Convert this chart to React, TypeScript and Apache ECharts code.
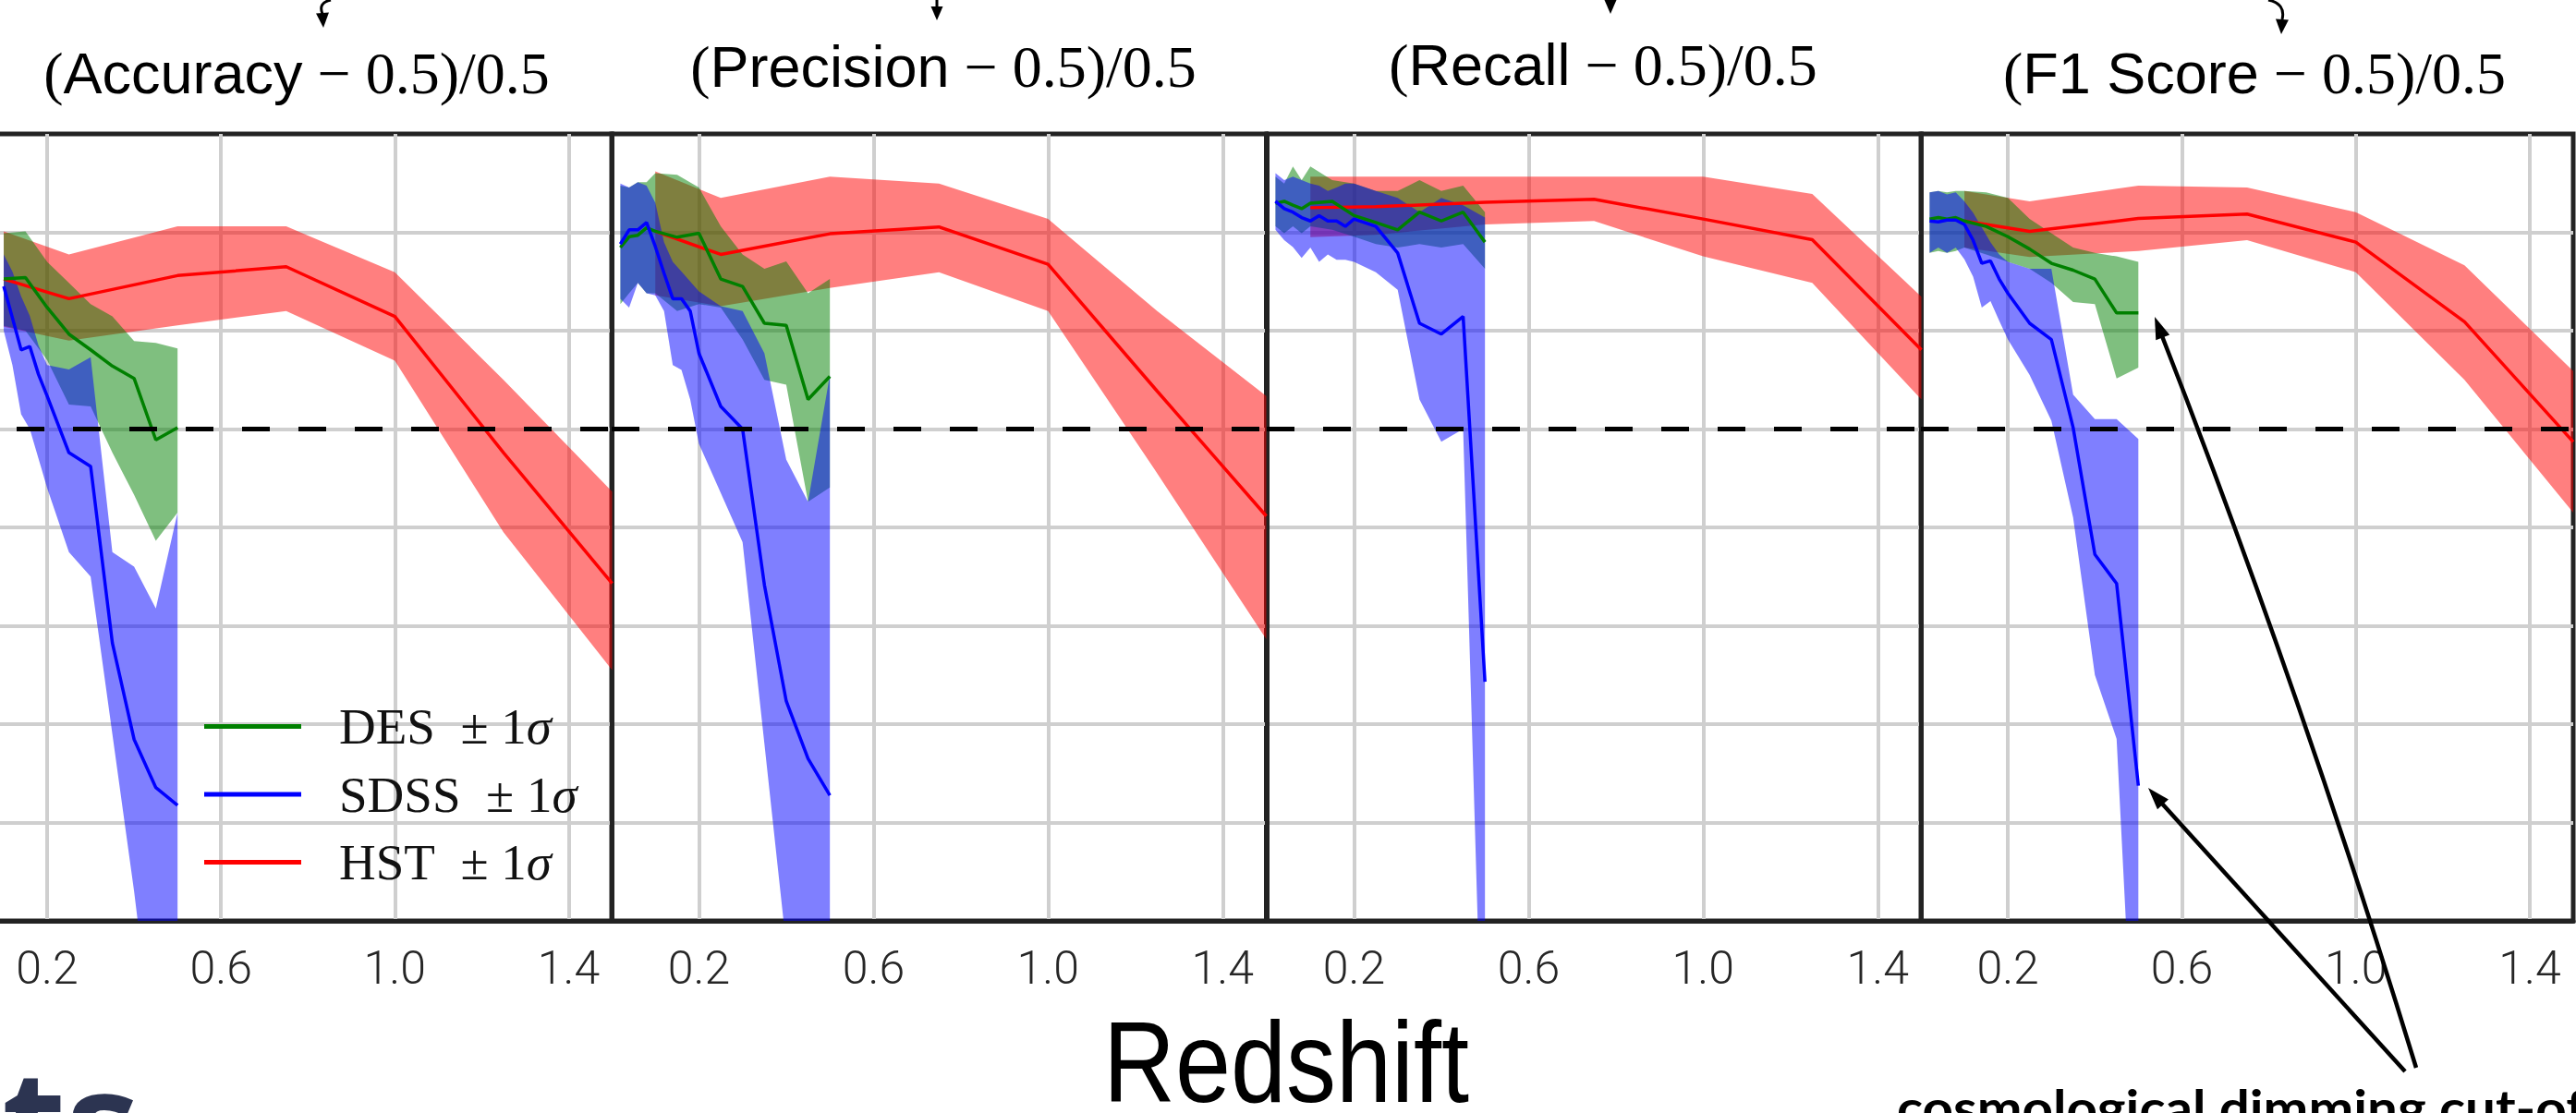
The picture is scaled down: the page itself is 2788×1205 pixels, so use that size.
import React, { useEffect, useRef } from 'react';
import * as echarts from 'echarts';

const N = null;

// ---------- axes / labels ----------
const panelTitles = ['Accuracy', 'Precision', 'Recall', 'F1 Score'];
const xTickLabels = [0.2, 0.6, 1.0, 1.4];
const legendNames = ['DES', 'SDSS', 'HST'];

// ---------- x grids (redshift) ----------
const hstX = [0.1, 0.25, 0.5, 0.75, 1.0, 1.25, 1.5];
const desX = [0.02, 0.04, 0.06, 0.08, 0.1, 0.15, 0.2, 0.25, 0.3, 0.35, 0.4, 0.45, 0.5];
const sdssX = [0.02, 0.04, 0.06, 0.08, 0.1, 0.12, 0.14, 0.16, 0.18, 0.2, 0.25, 0.3, 0.35, 0.4, 0.45, 0.5];

// ---------- Accuracy ----------
const accHstY = [0.305, 0.265, 0.312, 0.33, 0.229, -0.048, -0.314];
const accHstLo = [0.208, 0.18, 0.211, 0.24, 0.139, -0.21, -0.49];
const accHstHi = [0.402, 0.355, 0.412, 0.412, 0.319, 0.1, -0.127];
const accSdssY = [N, N, N, N, 0.29, 0.226, 0.161, 0.168, 0.111, 0.067, -0.048, -0.076, -0.435, -0.631, -0.729, -0.765];
const accSdssLo = [N, N, N, N, 0.2, 0.13, 0.03, 0.0, -0.06, -0.12, -0.25, -0.3, -0.62, -0.94, -1.3, -1.4];
const accSdssHi = [N, N, N, N, 0.355, 0.32, 0.27, 0.23, 0.17, 0.13, 0.121, 0.146, -0.25, -0.28, -0.365, -0.17];
const accDesY = [N, N, N, N, 0.305, 0.308, 0.247, 0.193, 0.161, 0.128, 0.103, -0.022, 0.003];
const accDesLo = [N, N, N, N, 0.21, 0.2, 0.14, 0.05, 0.046, -0.048, -0.134, -0.227, -0.17];
const accDesHi = [N, N, N, N, 0.398, 0.402, 0.34, 0.297, 0.254, 0.229, 0.179, 0.175, 0.164];

// ---------- Precision ----------
const preHstY = [0.402, 0.355, 0.397, 0.411, 0.335, 0.077, -0.177];
const preHstLo = [0.272, 0.25, 0.287, 0.319, 0.24, -0.09, -0.427];
const preHstHi = [0.524, 0.47, 0.513, 0.499, 0.427, 0.24, 0.067];
const preSdssY = [0.376, 0.405, 0.405, 0.42, 0.371, 0.317, 0.265, 0.265, 0.24, 0.154, 0.046, 0.0, -0.317, -0.553, -0.67, -0.745];
const preSdssLo = [0.265, 0.247, 0.297, 0.276, 0.272, 0.24, 0.13, 0.12, 0.06, -0.03, -0.13, -0.23, -0.64, -1.05, -1.3, -1.4];
const preSdssHi = [0.499, 0.491, 0.502, 0.495, 0.46, 0.38, 0.34, 0.32, 0.3, 0.28, 0.25, 0.24, 0.154, -0.062, -0.148, 0.11];
const preDesY = [0.369, 0.391, 0.394, 0.409, 0.402, 0.39, 0.398, 0.305, 0.29, 0.215, 0.211, 0.06, 0.107];
const preDesLo = [0.254, 0.276, 0.297, 0.276, 0.276, 0.24, 0.254, 0.247, 0.182, 0.1, 0.09, -0.148, -0.119];
const preDesHi = [0.495, 0.491, 0.502, 0.502, 0.52, 0.517, 0.491, 0.412, 0.355, 0.326, 0.341, 0.276, 0.305];

// ---------- Recall ----------
const recHstY = [0.45, 0.452, 0.461, 0.467, 0.427, 0.385, 0.161];
const recHstLo = [0.39, 0.395, 0.416, 0.423, 0.351, 0.297, 0.06];
const recHstHi = [0.513, 0.513, 0.513, 0.513, 0.513, 0.478, 0.269];
const recSdssY = [0.463, 0.448, 0.441, 0.43, 0.423, 0.434, 0.423, 0.423, 0.412, 0.427, 0.412, 0.358, 0.215, 0.193, 0.229, -0.514];
const recSdssLo = [0.405, 0.384, 0.37, 0.348, 0.369, 0.34, 0.355, 0.344, 0.344, 0.34, 0.319, 0.283, 0.06, -0.026, 0.0, -1.5];
const recSdssHi = [0.52, 0.506, 0.513, 0.506, 0.499, 0.495, 0.484, 0.491, 0.499, 0.499, 0.484, 0.47, 0.441, 0.47, 0.455, 0.43];
const recDesY = [0.459, 0.463, 0.455, 0.448, 0.459, 0.463, 0.434, 0.42, 0.405, 0.441, 0.423, 0.441, 0.38];
const recDesLo = [0.412, 0.398, 0.412, 0.398, 0.412, 0.405, 0.391, 0.376, 0.369, 0.376, 0.369, 0.376, 0.326];
const recDesHi = [0.513, 0.499, 0.534, 0.506, 0.534, 0.506, 0.499, 0.484, 0.484, 0.506, 0.484, 0.495, 0.441];

// ---------- F1 Score ----------
const f1HstY = [0.423, 0.402, 0.428, 0.437, 0.38, 0.218, -0.026];
const f1HstLo = [0.369, 0.35, 0.362, 0.384, 0.319, 0.1, -0.17];
const f1HstHi = [0.484, 0.463, 0.495, 0.491, 0.441, 0.333, 0.118];
const f1SdssY = [0.423, 0.421, 0.425, 0.425, 0.416, 0.384, 0.337, 0.342, 0.305, 0.276, 0.215, 0.182, 0.003, -0.255, -0.314, -0.725];
const f1SdssLo = [0.358, 0.369, 0.358, 0.369, 0.345, 0.31, 0.247, 0.26, 0.22, 0.182, 0.11, 0.017, -0.18, -0.5, -0.63, -1.5];
const f1SdssHi = [0.481, 0.484, 0.477, 0.481, 0.463, 0.44, 0.41, 0.38, 0.355, 0.34, 0.326, 0.326, 0.07, 0.02, 0.02, -0.02];
const f1DesY = [0.427, 0.43, 0.427, 0.43, 0.423, 0.412, 0.391, 0.366, 0.337, 0.323, 0.305, 0.236, 0.236];
const f1DesLo = [0.358, 0.362, 0.358, 0.362, 0.369, 0.355, 0.34, 0.326, 0.297, 0.258, 0.254, 0.103, 0.125];
const f1DesHi = [0.481, 0.484, 0.481, 0.484, 0.484, 0.481, 0.47, 0.427, 0.398, 0.369, 0.358, 0.351, 0.34];

const panels = [
  { hst: [accHstY, accHstLo, accHstHi], sdss: [accSdssY, accSdssLo, accSdssHi], des: [accDesY, accDesLo, accDesHi] },
  { hst: [preHstY, preHstLo, preHstHi], sdss: [preSdssY, preSdssLo, preSdssHi], des: [preDesY, preDesLo, preDesHi] },
  { hst: [recHstY, recHstLo, recHstHi], sdss: [recSdssY, recSdssLo, recSdssHi], des: [recDesY, recDesLo, recDesHi] },
  { hst: [f1HstY, f1HstLo, f1HstHi], sdss: [f1SdssY, f1SdssLo, f1SdssHi], des: [f1DesY, f1DesLo, f1DesHi] },
];

// ---------- layout ----------
// The first panel starts left of the visible page: the chart canvas is shifted left by OFF.
const W = 2788;
const H = 1205;
const OFF = 46;
const CW = W + OFF;
const panelLeft = [0, 708, 1417, 2125];
const panelTop = 145;
const panelWidth = 708.5;
const panelHeight = 852;
const titlePos = [
  { cx: 321, base: 101 },
  { cx: 1021, base: 94 },
  { cx: 1735, base: 92 },
  { cx: 2440, base: 101 },
];

const RED = '#ff0000';
const BLUE = '#0000ff';
const GREEN = '#008000';
const BORDER = '#232323';
const GRIDC = '#cfcfcf';
const SANS = 'Liberation Sans';
const SERIF = 'Liberation Serif';

const gx = (x: number) => x + OFF;

function bandSeries(gi: number, xs: number[], lo: any[], hi: any[], fill: string) {
  const pts = xs
    .map((x, i) => [x, lo[i], hi[i]])
    .filter((p) => p[1] != null && p[2] != null);
  return {
    type: 'custom',
    xAxisIndex: gi,
    yAxisIndex: gi,
    clip: true,
    silent: true,
    z: 1,
    data: pts,
    encode: { x: 0, y: [1, 2] },
    renderItem: (params: any, api: any) => {
      if (params.dataIndex !== 0) return null;
      const upper = pts.map((p) => api.coord([p[0], p[2]]));
      const lower = pts.map((p) => api.coord([p[0], p[1]])).reverse();
      return {
        type: 'polygon',
        shape: { points: upper.concat(lower) },
        style: { fill },
      };
    },
  };
}

function lineSeries(gi: number, name: string, xs: number[], ys: any[], color: string, extra: any = {}) {
  return {
    type: 'line',
    name,
    xAxisIndex: gi,
    yAxisIndex: gi,
    data: xs.map((x, i) => [x, ys[i]]).filter((p) => p[1] != null),
    symbol: 'none',
    silent: true,
    color,
    itemStyle: { color },
    lineStyle: { color, width: 3.5 },
    z: 3,
    ...extra,
  };
}

function arrowHead(tx: number, ty: number, fx: number, fy: number, len: number, hw: number) {
  const dx = tx - fx;
  const dy = ty - fy;
  const d = Math.hypot(dx, dy);
  const ux = dx / d;
  const uy = dy / d;
  const bx = tx - ux * len;
  const by = ty - uy * len;
  return {
    type: 'polygon',
    silent: true,
    z: 100,
    shape: {
      points: [
        [gx(tx), ty],
        [gx(bx - uy * hw), by + ux * hw],
        [gx(bx + uy * hw), by - ux * hw],
      ],
    },
    style: { fill: '#000' },
  };
}

export default function App() {
  const ref = useRef<HTMLDivElement>(null);

  useEffect(() => {
    if (!ref.current) return;
    const chart = echarts.init(ref.current, undefined, { renderer: 'svg', width: CW, height: H });

    const grids: any[] = [];
    const xAxes: any[] = [];
    const yAxes: any[] = [];
    const series: any[] = [];

    panels.forEach((p, gi) => {
      grids.push({
        left: panelLeft[gi],
        top: panelTop,
        width: panelWidth,
        height: panelHeight,
        show: true,
        borderColor: BORDER,
        borderWidth: 5,
        backgroundColor: 'rgba(0,0,0,0)',
      });
      xAxes.push({
        gridIndex: gi,
        type: 'value',
        min: 0,
        max: 1.5,
        interval: 0.2,
        axisLine: { show: true, onZero: false, lineStyle: { color: BORDER, width: 5 } },
        axisTick: { show: false },
        axisLabel: {
          show: true,
          margin: 26,
          fontFamily: 'Roboto',
          fontWeight: 300,
          fontSize: 50,
          color: '#262626',
          formatter: (v: number) =>
            xTickLabels.some((t) => Math.abs(t - v) < 1e-6) ? v.toFixed(1) : '',
        },
        splitLine: {
          show: true,
          showMinLine: true,
          showMaxLine: true,
          lineStyle: { color: ['rgba(0,0,0,0)', GRIDC], width: 4 },
        },
      });
      yAxes.push({
        gridIndex: gi,
        type: 'value',
        min: -1.0,
        max: 0.6,
        interval: 0.2,
        axisLine: { show: true, onZero: false, lineStyle: { color: BORDER, width: 5 } },
        axisTick: { show: false },
        axisLabel: { show: false },
        splitLine: {
          show: true,
          showMinLine: false,
          showMaxLine: false,
          lineStyle: { color: GRIDC, width: 4 },
        },
      });

      series.push(bandSeries(gi, hstX, p.hst[1], p.hst[2], 'rgba(255,0,0,0.5)'));
      series.push(bandSeries(gi, desX, p.des[1], p.des[2], 'rgba(0,128,0,0.5)'));
      series.push(bandSeries(gi, sdssX, p.sdss[1], p.sdss[2], 'rgba(0,0,255,0.5)'));
      series.push(
        lineSeries(gi, 'HST', hstX, p.hst[0], RED, {
          markLine: {
            silent: true,
            symbol: ['none', 'none'],
            label: { show: false },
            lineStyle: { color: '#000', width: 5, type: [30, 31] },
            data: [{ yAxis: 0 }],
          },
        })
      );
      series.push(lineSeries(gi, 'DES', desX, p.des[0], GREEN));
      series.push(lineSeries(gi, 'SDSS', sdssX, p.sdss[0], BLUE));
    });

    const graphics: any[] = [];
    // panel titles
    panelTitles.forEach((t, i) => {
      graphics.push({
        type: 'text',
        silent: true,
        z: 100,
        x: gx(titlePos[i].cx),
        y: titlePos[i].base - 22,
        style: {
          text: `{s|(}{t|${t}}{s| \u2212 0.5)/0.5}`,
          align: 'center',
          verticalAlign: 'middle',
          fill: '#000',
          rich: {
            s: { fontFamily: SERIF, fontSize: 64, fill: '#000' },
            t: { fontFamily: SANS, fontSize: 63, fill: '#000' },
          },
        },
      });
    });
    // x-axis name
    graphics.push({
      type: 'text',
      silent: true,
      z: 100,
      x: gx(1392),
      y: 1150,
      scaleY: 1.15,
      style: {
        text: 'Redshift',
        fontFamily: SANS,
        fontSize: 108,
        lineHeight: 80,
        fill: '#000',
        align: 'center',
        verticalAlign: 'middle',
      },
    });
    // slide title fragment (cut by the bottom edge, as in the photo)
    graphics.push({
      type: 'text',
      silent: true,
      z: 100,
      x: gx(2),
      y: 1211,
      style: {
        text: 'ts',
        fontFamily: 'Open Sans',
        fontWeight: 700,
        fontSize: 160,
        fill: '#2c3451',
        align: 'left',
        verticalAlign: 'middle',
      },
    });
    // annotation text (cut by the right and bottom edges, as in the photo)
    graphics.push({
      type: 'text',
      silent: true,
      z: 100,
      x: gx(2053),
      y: 1198,
      scaleX: 1.08,
      style: {
        text: 'cosmological dimming cut-off',
        fontFamily: 'Lato',
        fontWeight: 700,
        fontSize: 54,
        fill: '#000',
        align: 'left',
        verticalAlign: 'middle',
      },
    });
    // annotation arrows
    graphics.push({
      type: 'bezierCurve',
      silent: true,
      z: 100,
      shape: { x1: gx(2615), y1: 1156, x2: gx(2335), y2: 351, cpx1: gx(2489), cpy1: 744 },
      style: { stroke: '#000', lineWidth: 4.5, fill: 'none' },
    });
    graphics.push(arrowHead(2332, 343, 2341, 366, 24, 8));
    graphics.push({
      type: 'line',
      silent: true,
      z: 100,
      shape: { x1: gx(2603), y1: 1160, x2: gx(2330), y2: 859 },
      style: { stroke: '#000', lineWidth: 4.5 },
    });
    graphics.push(arrowHead(2325, 853, 2341, 871, 24, 8));
    // small arrows at the top edge
    graphics.push({
      type: 'bezierCurve',
      silent: true,
      z: 100,
      shape: { x1: gx(358), y1: 0, x2: gx(349), y2: 15, cpx1: gx(344), cpy1: 3 },
      style: { stroke: '#000', lineWidth: 3, fill: 'none' },
    });
    graphics.push(arrowHead(350, 30, 349, 14, 16, 7));
    graphics.push({
      type: 'line',
      silent: true,
      z: 100,
      shape: { x1: gx(1014), y1: 0, x2: gx(1014), y2: 9 },
      style: { stroke: '#000', lineWidth: 3 },
    });
    graphics.push(arrowHead(1014, 22, 1014, 8, 15, 6.5));
    graphics.push(arrowHead(1743, 15, 1743, 0, 15, 6.5));
    graphics.push({
      type: 'bezierCurve',
      silent: true,
      z: 100,
      shape: { x1: gx(2455), y1: 0, x2: gx(2470), y2: 21, cpx1: gx(2474), cpy1: 4 },
      style: { stroke: '#000', lineWidth: 3, fill: 'none' },
    });
    graphics.push(arrowHead(2469, 37, 2470, 20, 16, 7));

    chart.setOption({
      animation: false,
      backgroundColor: '#ffffff',
      grid: grids,
      xAxis: xAxes,
      yAxis: yAxes,
      series,
      legend: {
        data: legendNames,
        orient: 'vertical',
        left: gx(216),
        top: 754,
        itemWidth: 105,
        itemHeight: 5,
        itemGap: 18.5,
        icon: 'rect',
        selectedMode: false,
        formatter: (name: string) => `{n|${name}}{p|  \u00b1 1}{i|\u03c3}`,
        textStyle: {
          padding: [0, 0, 0, 36],
          rich: {
            n: { fontFamily: SERIF, fontSize: 55, color: '#111', lineHeight: 53 },
            p: { fontFamily: SERIF, fontSize: 55, color: '#111', lineHeight: 53 },
            i: { fontFamily: SERIF, fontSize: 55, fontStyle: 'italic', color: '#111', lineHeight: 53 },
          },
        },
      },
      graphic: { elements: graphics },
    });

    return () => {
      chart.dispose();
    };
  }, []);

  return (
    <div
      ref={ref}
      style={{ position: 'absolute', left: -OFF, top: 0, width: CW, height: H, background: '#fff' }}
    />
  );
}
